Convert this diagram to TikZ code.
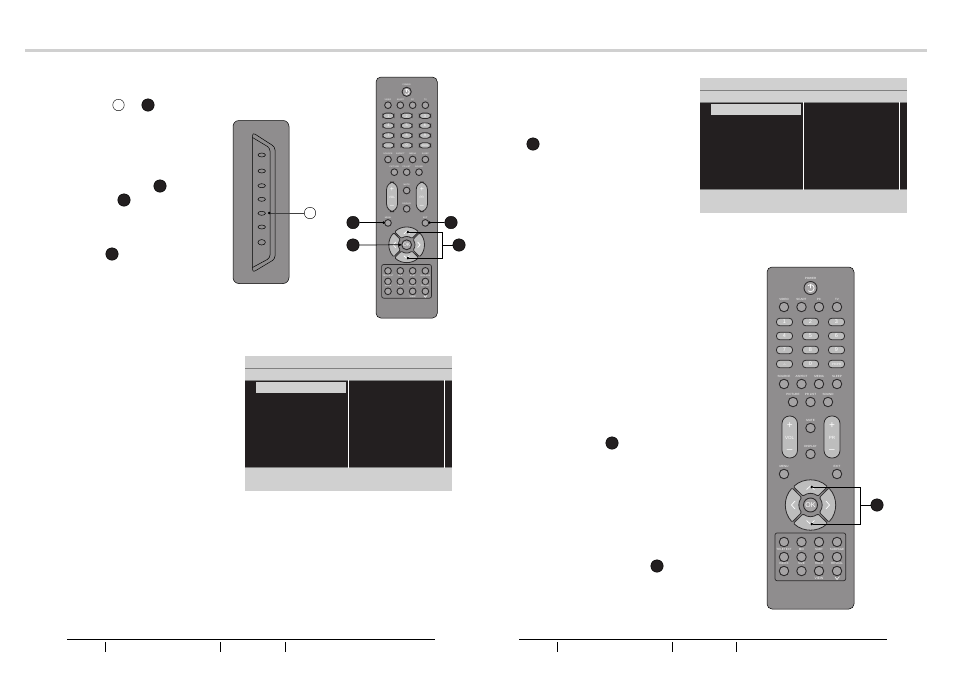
\documentclass[tikz,border=0pt]{standalone}
\usepackage{fontspec}
\setmainfont{Liberation Sans}
\usetikzlibrary{arrows.meta, shapes.geometric}

\definecolor{bodygray}{HTML}{8F8D8E}
\definecolor{keygray}{HTML}{A5A3A4}
\definecolor{lightgray2}{HTML}{BDBDBD}
\definecolor{panelgray}{HTML}{D0D0D0}
\definecolor{nightgray}{HTML}{231F20}
\definecolor{edgegray}{HTML}{2E2C2D}

\tikzset{
	keyb/.style={circle, draw=edgegray, fill=keygray, line width=.9pt, minimum size=9.5pt, inner sep=0pt},
	keyl/.style={font=\fontsize{3}{3}\selectfont, text=white, inner sep=0pt, label distance=1.2pt},
	numk/.style={rectangle, rounded corners=3.2pt, draw=edgegray, fill=lightgray2, line width=.8pt, minimum width=16pt, minimum height=7.5pt, inner sep=0pt, text=white, font=\fontsize{5.5}{5.5}\selectfont},
	pill/.style={rounded corners=7.5pt, draw=edgegray, fill=lightgray2, line width=.8pt},
	sector/.style={rounded corners=1.2pt, draw=edgegray, fill=lightgray2, line width=.8pt},
	chev/.style={draw=white, line width=.7pt},
	sign/.style={font=\fontsize{#1}{#1}\selectfont, text=white, inner sep=0pt},
	badge/.style={circle, draw=black, fill=nightgray, line width=.4pt, minimum size=12.5pt, inner sep=0pt},
	ring/.style={circle, draw=black, fill=white, line width=.4pt, minimum size=11.5pt, inner sep=0pt},
	pointer/.style={draw=black, line width=.7pt, -{Circle[length=2.4pt]}},
	plainline/.style={draw=black, line width=.7pt},
	sidelead/.style={draw=black!75, line width=.8pt, -{Circle[length=2.4pt, color=black]}},
	remote/.pic={
		\draw[fill=bodygray, draw=black, line width=.5pt, rounded corners=5pt] (0,0) rectangle (87,342);
		\node[keyb, minimum size=13pt, label={[keyl]above:POWER}] (-power) at (43.5,21) {};
		\draw[chev, line cap=round] (43.5,17.5) -- (43.5,21);
		\draw[chev] (41,18.6) arc[start angle=135, end angle=-135, radius=3.6pt];
		\foreach \x/\t in {17/VIDEO,34.5/SCART,52/PC,70/TV}
			\node[keyb, label={[keyl]above:\t}] (-top\x) at (\x,40) {};
		\foreach \y/\p/\q/\r in {55/1/2/3,69/4/5/6,83/7/8/9}{
			\node[numk] (-n\p) at (17.5,\y) {\p};
			\node[numk] (-n\q) at (43.5,\y) {\q};
			\node[numk] (-n\r) at (69.5,\y) {\r};
		}
		\node[numk, font=\fontsize{3}{3}\selectfont] (-dash) at (17.5,97) {-/--};
		\node[numk] (-n0) at (43.5,97) {0};
		\node[numk, font=\fontsize{3}{3}\selectfont] (-swap) at (69.5,97) {PR/PR};
		\foreach \x/\t in {17/SOURCE,34.5/ASPECT,52/MEDIA,70/SLEEP}
			\node[keyb, label={[keyl]above:\t}] (-mid\x) at (\x,117) {};
		\foreach \x/\t in {26/PICTURE,43.5/PR LIST,61/SOUND}
			\node[keyb, label={[keyl]above:\t}] (-low\x) at (\x,135) {};
		\draw[pill] (15,149) rectangle (30.5,191);
		\draw[pill] (57,149) rectangle (73,191);
		\node[sign=10] (-volp) at (22.7,159) {+};
		\node[sign=10] (-prp) at (65,159) {+};
		\node[sign=10] (-volm) at (22.7,184) {--};
		\node[sign=10] (-prm) at (65,184) {--};
		\node[sign=4.5] (-vol) at (22.7,171) {VOL};
		\node[sign=4.5] (-pr) at (65,171) {PR};
		\node[keyb, label={[keyl]above:MUTE}] (-mute) at (43.5,161) {};
		\node[keyb, label={[keyl]above:DISPLAY}] (-display) at (43.5,187) {};
		\node[keyb, label={[keyl]above:MENU}] (-menu) at (17,207) {};
		\node[keyb, label={[keyl]above:EXIT}] (-exit) at (70,207) {};
		\coordinate (-menul) at (12.5,206.5);
		\coordinate (-exitr) at (74.5,206.5);
		\begin{scope}[shift={(43.5,238)}]
			\foreach \a in {0,90,180,270}
				\draw[sector, rotate=\a] (-43:25pt) arc[start angle=-43, end angle=43, radius=25pt] -- (40:11.5pt) arc[start angle=40, end angle=-40, radius=11.5pt] -- cycle;
			\draw[chev] (-15.5,-4) -- (-19,0) -- (-15.5,4);
			\draw[chev] (15.5,-4) -- (19,0) -- (15.5,4);
			\draw[chev] (-4,-15.5) -- (0,-19) -- (4,-15.5);
			\draw[chev] (-4,15.5) -- (0,19) -- (4,15.5);
		\end{scope}
		\node[keyb, minimum size=14pt, text=white, font=\fontsize{7}{7}\selectfont] (-ok) at (43.5,238) {OK};
		\coordinate (-okl) at (35.5,238);
		\coordinate (-up) at (43.5,220);
		\coordinate (-down) at (43.5,257);
		\draw[draw=edgegray, line width=.7pt, rounded corners=2pt] (8,266) rectangle (78.7,313.7);
		\foreach \x in {17,34.5,52,70}
			\node[keyb] (-txa\x) at (\x,275) {};
		\foreach \x/\t in {17/TELETEXT,34.5/MIX,52/SUBT,70/SUBPAGE}
			\node[keyb, label={[keyl]above:\t}] (-txb\x) at (\x,290) {};
		\foreach \x/\t in {17/INDEX,34.5/SIZE,52/HOLD,70/REVEAL}
			\node[keyb, label={[keyl]above:\t}] (-txc\x) at (\x,304) {};
		\node[keyl, font=\fontsize{3.4}{3.4}\selectfont] (-view) at (52,311) {VIEW};
		\draw[chev, line width=.5pt] (68,310) -- (70,312.5) -- (72.5,309.5);
	},
	screen/.pic={
		\fill[panelgray] (0,0) rectangle (207,135);
		\draw[draw=gray, line width=.7pt] (0,12.3) -- (207,12.3);
		\fill[nightgray] (0,24) rectangle (207,111.7);
		\draw[draw=gray, line width=.6pt] (0,24) -- (207,24);
		\draw[draw=gray, line width=.6pt] (0,111.7) -- (207,111.7);
		\fill[panelgray] (11,26) rectangle (101,37);
		\draw[draw=white, line width=.8pt] (103.3,24) -- (103.3,111.7);
		\draw[draw=white, line width=.8pt] (199,24) -- (199,111.7);
	}
}

\begin{document}
\begin{tikzpicture}[x=1pt, y=-1pt]
		\useasboundingbox (0,0) rectangle (954,675);
		\draw[draw=panelgray, line width=3pt] (25,50.5) -- (927,50.5);
		
		\node[ring] (r1) at (118.5,105) {};
		\node[badge] (b1) at (148,105) {};
		\node[badge] (b2) at (160,186) {};
		\node[badge] (b3) at (124,200) {};
		\node[badge] (b4) at (112,254) {};
		
		\draw[fill=bodygray, draw=black, line width=.5pt, rounded corners=6pt] (233,120.5) rectangle (289,283.5);
		\draw[plainline, line width=.5pt, rounded corners=3pt] (252.5,132.5) -- (275,147) -- (275,259) -- (252.5,272.5) -- cycle;
		\draw[plainline, line width=.5pt, rounded corners=3pt] (252.5,137.5) -- (270,148) -- (270,258) -- (252.5,267.5);
		\foreach \y/\i in {155/1,171/2,185.7/3,199.3/4,213.3/5,227/6}
			\node[ellipse, draw=black, line width=.5pt, minimum width=7.5pt, minimum height=4pt, inner sep=0pt] (s\i) at (261.7,\y) {};
		\node[ellipse, draw=black, line width=.5pt, minimum width=7.5pt, minimum height=5.5pt, inner sep=0pt] (s7) at (261.7,242.3) {};
		\coordinate (sidept) at (268,213);
		\node[ring] (r2) at (310,213) {};
		\draw[sidelead] (r2) -- (sidept);
		
		\pic[scale=.705, transform shape] (small) at (376,77) {remote};
		\node[badge] (b5) at (353,222.5) {};
		\node[badge] (b6) at (451,222.5) {};
		\node[badge] (b7) at (353,245) {};
		\node[badge] (b8) at (459,245) {};
		\coordinate (smallbrk) at (442,245);
		\draw[pointer] (b5) -- (small-menul);
		\draw[pointer] (b6) -- (small-exitr);
		\draw[pointer] (b7) -- (small-okl);
		\draw[plainline] (b8) -- (smallbrk);
		\draw[pointer] (smallbrk) |- (small-up);
		\draw[pointer] (smallbrk) |- (small-down);
		
		\pic (menua) at (245,356) {screen};
		\pic (menub) at (700,78) {screen};
		
		\node[badge] (b9) at (533,144) {};
		\node[badge] (b10) at (612,443) {};
		\node[badge] (b11) at (657,566) {};
		
		\pic (large) at (767,267) {remote};
		\node[badge] (b12) at (877,505) {};
		\coordinate (largebrk) at (860,505);
		\draw[plainline] (b12) -- (largebrk);
		\draw[pointer] (largebrk) |- (large-up);
		\draw[pointer] (largebrk) |- (large-down);
		
		\draw[plainline] (67,639.3) -- (435,639.3);
		\draw[plainline] (105,642) -- (105,651.5);
		\draw[plainline] (220.3,642) -- (220.3,651.5);
		\draw[plainline] (285.3,642) -- (285.3,651.5);
		\draw[plainline] (519,639.3) -- (887,639.3);
		\draw[plainline] (557,642) -- (557,651.5);
		\draw[plainline] (672.5,642) -- (672.5,651.5);
		\draw[plainline] (736.5,642) -- (736.5,651.5);
\end{tikzpicture}
\end{document}
